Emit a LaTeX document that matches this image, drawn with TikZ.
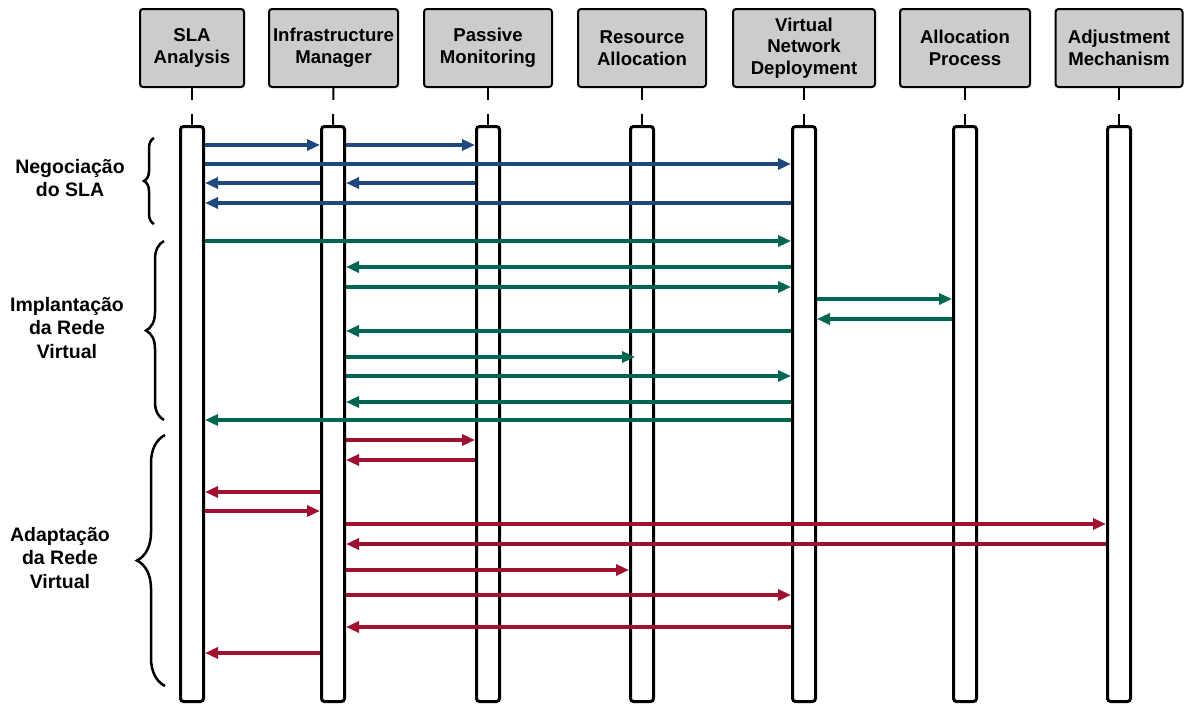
\documentclass[tikz,border=0pt]{standalone}
\usepackage{fontspec}
\setmainfont{Liberation Sans}
\usetikzlibrary{arrows.meta,decorations.pathreplacing,calc}
\definecolor{negblue}{HTML}{1F497D}
\definecolor{impgreen}{HTML}{006652}
\definecolor{adpred}{HTML}{A01030}
\definecolor{hdrgray}{HTML}{CCCCCC}
\tikzset{
  header/.style={draw=black, line width=2pt, fill=hdrgray, rounded corners=3pt,
    minimum height=78pt, align=center, inner sep=1pt,
    font=\fontsize{18.6}{21.8}\selectfont\bfseries},
  actbar/.style={draw=black, line width=3pt, fill=white, rounded corners=3pt,
    minimum width=23pt, minimum height=575pt, inner sep=0pt},
  lifeline/.style={line width=2pt, dash pattern=on 12pt off 14pt on 12pt},
  msg/.style={line width=3.5pt},
  msgB/.style={msg, draw=negblue, -{Triangle[length=13pt,width=11pt,fill=negblue]}},
  msgG/.style={msg, draw=impgreen, -{Triangle[length=13pt,width=11pt,fill=impgreen]}},
  msgR/.style={msg, draw=adpred, -{Triangle[length=13pt,width=11pt,fill=adpred]}},
  phase/.style={align=center, inner sep=1pt, font=\fontsize{19.5}{23.5}\selectfont\bfseries},
  phasebrace/.style={decorate, line width=2.5pt,
    decoration={brace, amplitude=#1, aspect=0.5}},
}
\begin{document}
\begin{tikzpicture}[x=1pt, y=-1pt]
\useasboundingbox (0,0) rectangle (1184,707);

% participants
\node[header, minimum width=104pt] (hSLA) at (192,48) {SLA\\Analysis};
\node[header, minimum width=129pt] (hIM)  at (333.5,48) {Infrastructure\\Manager};
\node[header, minimum width=128pt] (hPM)  at (488,48) {Passive\\Monitoring};
\node[header, minimum width=128pt] (hRA)  at (642,48) {Resource\\Allocation};
\node[header, minimum width=142pt] (hVND) at (804,48) {Virtual\\Network\\Deployment};
\node[header, minimum width=130pt] (hAP)  at (965,48) {Allocation\\Process};
\node[header, minimum width=127pt] (hAM)  at (1119,48) {Adjustment\\Mechanism};

% activation bars
\node[actbar] (SLA) at (192,414) {};
\node[actbar] (IM)  at (333,414) {};
\node[actbar] (PM)  at (488,414) {};
\node[actbar] (RA)  at (642,414) {};
\node[actbar] (VND) at (804,414) {};
\node[actbar] (AP)  at (965,414) {};
\node[actbar] (AM)  at (1119,414) {};

% lifelines
\foreach \p in {SLA,IM,PM,RA,VND,AP,AM}
  \draw[lifeline] (h\p.south) -- (\p.north);

% SLA negotiation
\draw[msgB] (SLA.east |- 0,145) -- (IM.west |- 0,145);
\draw[msgB] (IM.east |- 0,145) -- (PM.west |- 0,145);
\draw[msgB] (SLA.east |- 0,164) -- (VND.west |- 0,164);
\draw[msgB] (PM.west |- 0,183) -- (IM.east |- 0,183);
\draw[msgB] (IM.west |- 0,183) -- (SLA.east |- 0,183);
\draw[msgB] (VND.west |- 0,203) -- (SLA.east |- 0,203);

% virtual network deployment
\draw[msgG] (SLA.east |- 0,241) -- (VND.west |- 0,241);
\draw[msgG] (VND.west |- 0,267) -- (IM.east |- 0,267);
\draw[msgG] (IM.east |- 0,287) -- (VND.west |- 0,287);
\draw[msgG] (VND.east |- 0,299) -- (AP.west |- 0,299);
\draw[msgG] (AP.west |- 0,319) -- (VND.east |- 0,319);
\draw[msgG] (VND.west |- 0,331) -- (IM.east |- 0,331);
\draw[msgG] (IM.east |- 0,357) -- ($(RA.west |- 0,357)+(6,0)$);
\draw[msgG] (IM.east |- 0,376) -- (VND.west |- 0,376);
\draw[msgG] (VND.west |- 0,402) -- (IM.east |- 0,402);
\draw[msgG] (VND.west |- 0,420) -- (SLA.east |- 0,420);

% virtual network adaptation
\draw[msgR] (IM.east |- 0,440) -- (PM.west |- 0,440);
\draw[msgR] (PM.west |- 0,460) -- (IM.east |- 0,460);
\draw[msgR] (IM.west |- 0,492) -- (SLA.east |- 0,492);
\draw[msgR] (SLA.east |- 0,511) -- (IM.west |- 0,511);
\draw[msgR] (IM.east |- 0,524) -- (AM.west |- 0,524);
\draw[msgR] (AM.west |- 0,544) -- (IM.east |- 0,544);
\draw[msgR] (IM.east |- 0,570) -- (RA.west |- 0,570);
\draw[msgR] (IM.east |- 0,595) -- (VND.west |- 0,595);
\draw[msgR] (VND.west |- 0,627) -- (IM.east |- 0,627);
\draw[msgR] (IM.west |- 0,653) -- (SLA.east |- 0,653);

% phase braces and labels
\coordinate (b1t) at (154,138);
\coordinate (b1b) at (154,224);
\coordinate (b2t) at (164,241);
\coordinate (b2b) at (164,420);
\coordinate (b3t) at (165,435);
\coordinate (b3b) at (165,686);
\draw[phasebrace=10pt] (b1b) -- (b1t);
\draw[phasebrace=18pt] (b2b) -- (b2t);
\draw[phasebrace=28pt] (b3b) -- (b3t);
\node[phase] (neg) at (70,178) {Negociação\\do SLA};
\node[phase] (imp) at (67,328) {Implantação\\da Rede\\Virtual};
\node[phase] (adp) at (60,558) {Adaptação\\da Rede\\Virtual};
\end{tikzpicture}
\end{document}
